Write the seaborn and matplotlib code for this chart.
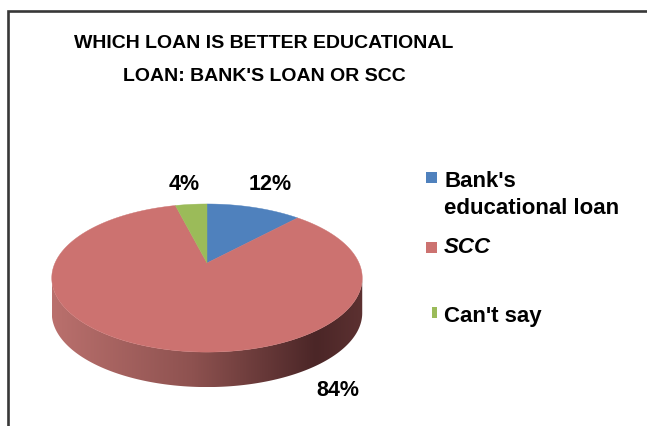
import numpy as np
import matplotlib
matplotlib.use("Agg")
import matplotlib.pyplot as plt
from matplotlib.patches import Polygon, Rectangle
from matplotlib.colors import LinearSegmentedColormap
import seaborn as sns

# Survey answers
categories = ["Bank's educational loan", "SCC", "Can't say"]
shares = [12, 84, 4]
share_labels = ["12%", "84%", "4%"]
title_lines = ["WHICH LOAN IS BETTER EDUCATIONAL", "LOAN: BANK'S LOAN OR SCC"]

sns.set_theme(style="white")
plt.rcParams["font.family"] = ["Liberation Sans", "DejaVu Sans"]
plt.rcParams["text.color"] = "black"

palette = sns.color_palette(["#4F81BD", "#CC7270", "#9BBB59"])

W, H = 647, 426
fig = plt.figure(figsize=(W / 100, H / 100), dpi=100)
ax = fig.add_axes([0, 0, 1, 1])
ax.set_xlim(0, W)
ax.set_ylim(H, 0)
ax.axis("off")

# Tilted-disc projection of the pie (angles clockwise from 12 o'clock)
cx, cy = 207.0, 263.0
a, b, k = 152.0, 71.0, 0.203
depth = 35.0


def project(theta_deg):
    t = np.radians(theta_deg)
    x, y = np.sin(t), np.cos(t)
    d = 1 + k * y
    return cx + a * x / d, cy - b * y / d


# wedge angular extents: Bank's starts at 12 o'clock going clockwise,
# SCC follows, "Can't say" closes the circle
total = float(sum(shares))
starts = np.cumsum([0] + shares[:-1]) / total * 360.0
ends = np.cumsum(shares) / total * 360.0

# side wall (front half of the rim)
edge = np.degrees(np.arccos(-k))
ths = np.linspace(edge, 360 - edge, 200)
px, py = project(ths)
side = np.vstack([np.column_stack([px, py]),
                  np.column_stack([px[::-1], py[::-1] + depth])])
side_patch = Polygon(side, closed=True, facecolor="none", edgecolor="none")
ax.add_patch(side_patch)
side_cmap = LinearSegmentedColormap.from_list(
    "side", [(0.0, "#BA706D"), (0.45, "#8E5250"), (0.85, "#4B2627"), (1.0, "#5C3131")])
grad = np.linspace(0, 1, 256)[None, :]
img = ax.imshow(grad, cmap=side_cmap, aspect="auto",
                extent=[px.min(), px.max(), py.max() + depth, py.min()],
                interpolation="bilinear", zorder=1)
img.set_clip_path(side_patch)
ax.set_xlim(0, W)
ax.set_ylim(H, 0)

# top face wedges
for s, e, col in zip(starts, ends, palette):
    th = np.linspace(s, e, max(int(e - s) * 2, 10))
    wx, wy = project(th)
    pts = np.vstack([[cx, cy], np.column_stack([wx, wy])])
    ax.add_patch(Polygon(pts, closed=True, facecolor=col, edgecolor=col,
                         linewidth=0.3, zorder=2))

# value labels
label_pos = {"12%": (270.5, 185), "84%": (337.5, 391), "4%": (184.5, 185)}
for lab in share_labels:
    x, y = label_pos[lab]
    ax.text(x, y, lab, ha="center", va="center", fontsize=15.5,
            fontweight="bold", zorder=3)

# title
for line, base in zip(title_lines, [48, 81]):
    ax.text(264, base, line, ha="center", va="baseline", fontsize=14,
            fontweight="bold")

# legend
ax.add_patch(Rectangle((426, 172), 11, 11, facecolor=palette[0], edgecolor="none"))
ax.text(444, 187, "Bank's", ha="left", va="baseline", fontsize=16, fontweight="bold")
ax.text(444, 214, "educational loan", ha="left", va="baseline", fontsize=16,
        fontweight="bold")
ax.add_patch(Rectangle((426, 242), 11, 11, facecolor=palette[1], edgecolor="none"))
ax.text(444, 253, "SCC", ha="left", va="baseline", fontsize=16, fontweight="bold",
        fontstyle="italic")
ax.add_patch(Rectangle((432, 307), 5, 11, facecolor=palette[2], edgecolor="none"))
ax.text(444, 322, "Can't say", ha="left", va="baseline", fontsize=16,
        fontweight="bold")

# chart frame
ax.plot([7.5, 7.5, W], [H, 10.5, 10.5], color="#383838", linewidth=1.9,
        solid_joinstyle="miter", zorder=4)

fig.savefig("out.png", dpi=100)
